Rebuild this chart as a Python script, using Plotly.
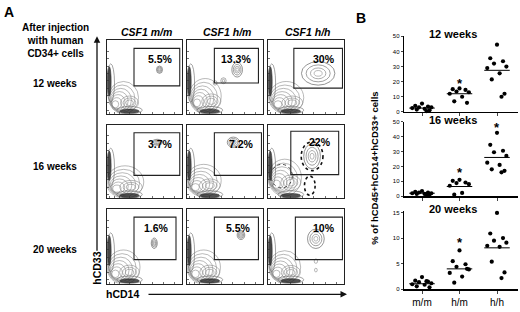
import plotly.graph_objects as go

W, H = 520, 312
FONT = "Liberation Sans, Arial, sans-serif"

# ---------------- Panel A data ----------------
col_names = ["CSF1 m/m", "CSF1 h/m", "CSF1 h/h"]
row_names = ["12 weeks", "16 weeks", "20 weeks"]
gate_pct = ["5.5%", "13.3%", "30%", "3.7%", "7.2%", "22%", "1.6%", "5.5%", "10%"]
gate_x0 = [0.36, 0.36, 0.34, 0.36, 0.36, 0.30, 0.36, 0.36, 0.36]
gate_x1 = [0.97, 0.94, 0.98, 0.97, 0.98, 0.93, 0.92, 0.94, 0.98]
gate_y0 = [0.38, 0.42, 0.35, 0.31, 0.31, 0.32, 0.32, 0.32, 0.32]
gate_y1 = [0.89, 0.89, 0.89, 0.89, 0.89, 0.91, 0.89, 0.89, 0.89]
# gated population (centre / half-size, panel fraction)
pop_cx = [0.70, 0.66, 0.66, 0.67, 0.61, 0.58, 0.63, 0.71, 0.63]
pop_cy = [0.60, 0.60, 0.55, 0.76, 0.76, 0.57, 0.54, 0.65, 0.60]
pop_rx = [0.04, 0.07, 0.22, 0.07, 0.08, 0.11, 0.04, 0.05, 0.11]
pop_ry = [0.05, 0.10, 0.16, 0.04, 0.07, 0.17, 0.07, 0.06, 0.13]
# lower-left (ungated) population
main_cx = [0.22, 0.24, 0.24, 0.24, 0.22, 0.22, 0.22, 0.22, 0.22]
main_cy = [0.22, 0.24, 0.22, 0.22, 0.24, 0.28, 0.22, 0.22, 0.22]
main_rx = [0.20, 0.21, 0.23, 0.25, 0.23, 0.22, 0.22, 0.22, 0.21]
main_ry = [0.22, 0.24, 0.22, 0.22, 0.22, 0.25, 0.23, 0.23, 0.22]

# ---------------- Panel B data ----------------
groups = ["m/m", "h/m", "h/h"]
weeks = ["12 weeks", "16 weeks", "20 weeks"]
w12 = [[5.5, 4.0, 3.5, 3.0, 3.0, 2.5, 2.0, 1.5, 1.0, 0.5],
       [15.5, 15.0, 14.5, 13.5, 13.0, 12.0, 10.0, 7.0, 6.0],
       [44.5, 35.5, 33.5, 32.0, 30.0, 29.0, 25.5, 21.5, 12.0, 10.0]]
w16 = [[3.5, 3.0, 2.5, 2.5, 2.0, 2.0, 1.5, 1.5, 1.0, 1.0],
       [11.0, 10.3, 9.2, 8.8, 8.1, 7.0, 2.2, 1.0],
       [42.5, 34.5, 30.5, 29.5, 27.0, 22.5, 21.0, 18.0, 17.0, 16.0]]
w20 = [[2.4, 1.7, 1.5, 1.4, 1.2, 1.0, 0.9, 0.6, 0.4, 1.6],
       [7.6, 5.5, 4.9, 4.4, 3.9, 3.2, 2.5, 1.3, 4.0],
       [14.9, 10.9, 10.0, 9.5, 9.1, 8.5, 8.3, 5.4, 3.3, 2.2]]
medians = [[2.5, 12.0, 27.5], [2.0, 6.5, 26.0], [1.1, 4.0, 8.1]]
star_y = [[None, 21.0, 51.0], [None, 18.0, 47.8], [None, 9.7, 16.3]]
y_max = [50, 50, 15]
y_dtick = [10, 10, 5]

# ---------------- layout geometry (pixels) ----------------
cols_px = [(107, 182), (187, 263), (268, 344)]
rows_px = [(38, 113), (124, 199), (210, 286)]
B_x = (404, 518)
B_rows = [(34, 111), (121, 197), (212, 292)]

def fx(x):
    return x / W

def fy(y):
    return 1 - y / H

fig = go.Figure()
layout = dict(width=W, height=H, margin=dict(l=0, r=0, t=0, b=0),
              paper_bgcolor="white", plot_bgcolor="white", showlegend=False,
              font=dict(family=FONT, color="black"))
shapes, annotations = [], []

def note(x, y, text, size, **kw):
    d = dict(xref="paper", yref="paper", x=fx(x), y=fy(y), text=text, showarrow=False,
             xanchor="center", yanchor="middle", font=dict(size=size, family=FONT))
    d.update(kw)
    annotations.append(d)

GRAY = "#8a8a8a"
for r in range(3):
    for c in range(3):
        i = r * 3 + c
        n = i + 1
        common = dict(range=[0, 1], showline=True, mirror=True, linecolor="#222",
                      linewidth=1, ticks="inside", ticklen=2, tickwidth=0.7,
                      tickcolor="#333", showticklabels=False, showgrid=False,
                      zeroline=False, fixedrange=True)
        layout[f"xaxis{n}"] = dict(domain=[fx(cols_px[c][0]), fx(cols_px[c][1])],
                                   anchor=f"y{n}",
                                   tickvals=[0.03, 0.1, 0.17, 0.3, 0.45, 0.6, 0.75, 0.9], **common)
        layout[f"yaxis{n}"] = dict(domain=[fy(rows_px[r][1]), fy(rows_px[r][0])],
                                   anchor=f"x{n}",
                                   tickvals=[0.05, 0.15, 0.25, 0.35, 0.45, 0.55, 0.65, 0.75, 0.85],
                                   **common)
        fig.add_trace(go.Scatter(x=[None], y=[None], xaxis=f"x{n}", yaxis=f"y{n}"))
        xr, yr = f"x{n}", f"y{n}"

        def ell(cx, cy, rx, ry, color=GRAY, width=0.6, fill=None, dash=None):
            s = dict(type="circle", xref=xr, yref=yr, x0=cx - rx, x1=cx + rx,
                     y0=cy - ry, y1=cy + ry, line=dict(color=color, width=width), layer="below")
            if fill:
                s["fillcolor"] = fill
            if dash:
                s["line"]["dash"] = dash
            shapes.append(s)

        # main lower-left population contours
        for k, sc in enumerate([1.0, 0.85, 0.71, 0.58, 0.46, 0.34, 0.22]):
            ell(main_cx[i] - 0.018 * k, main_cy[i] - 0.015 * k, main_rx[i] * sc, main_ry[i] * sc)
        for sc in [0.6, 0.42, 0.25]:
            ell(main_cx[i] + 0.08, main_cy[i] - 0.07, main_rx[i] * sc, main_ry[i] * sc * 0.7)
        # dark band along left edge and bottom
        ell(0.03, 0.44, 0.025, 0.2, color="#333", width=0.6, fill="rgba(25,25,25,0.8)")
        ell(0.05, 0.42, 0.05, 0.26, color="#666", width=0.6)
        ell(0.30, 0.035, 0.13, 0.03, color="#333", width=0.6, fill="rgba(25,25,25,0.75)")
        ell(0.30, 0.05, 0.17, 0.05, color="#666", width=0.6)
        # gated population
        if i == 5:
            ell(pop_cx[i], pop_cy[i], pop_rx[i] * 1.3, pop_ry[i] * 1.15, color="#111", width=1.6, dash="dot")
            ell(0.55, 0.17, 0.07, 0.13, color="#111", width=1.6, dash="dot")
            ell(0.18, 0.3, 0.14, 0.16, color="#444", width=1.0, dash="dot")
        for sc, colr in zip([1.0, 0.72, 0.46, 0.24], ["#666", "#777", "#888", "#999"]):
            ell(pop_cx[i], pop_cy[i], pop_rx[i] * sc, pop_ry[i] * sc, color=colr, width=0.7)
        if i == 1:
            ell(0.48, 0.45, 0.035, 0.04, color="#777")
            ell(0.48, 0.45, 0.015, 0.02, color="#777")
            ell(0.37, 0.42, 0.025, 0.03, color="#777")
        if i == 8:
            ell(0.63, 0.30, 0.022, 0.03, color="#888")
            ell(0.63, 0.18, 0.018, 0.025, color="#888")
        # gate
        shapes.append(dict(type="rect", xref=xr, yref=yr, x0=gate_x0[i], x1=gate_x1[i],
                           y0=gate_y0[i], y1=gate_y1[i], line=dict(color="#222", width=1.1),
                           layer="above"))
        annotations.append(dict(xref=xr, yref=yr, x=gate_x1[i] - 0.07, y=gate_y1[i] - 0.15,
                                text=f"<b>{gate_pct[i]}</b>", showarrow=False, xanchor="right",
                                yanchor="middle", font=dict(size=10.5, family=FONT)))

# column / row headings
for c in range(3):
    note((cols_px[c][0] + cols_px[c][1]) / 2 + 2, 30, f"<b><i>{col_names[c]}</i></b>", 10.5)
for r in range(3):
    note(55, [82, 167, 251][r], f"<b>{row_names[r]}</b>", 10)
note(55, 38, "<b>After injection<br>with human<br>CD34+ cells</b>", 10, align="center")
note(9, 9, "<b>A</b>", 14)
note(361, 15, "<b>B</b>", 14)
# flow axis arrows and labels
annotations.append(dict(xref="paper", yref="paper", x=fx(97), y=fy(34), ax=0, ay=216,
                        text="", showarrow=True, arrowhead=2, arrowsize=1, arrowwidth=1.3,
                        arrowcolor="#111"))
annotations.append(dict(xref="paper", yref="paper", x=fx(347), y=fy(297), ax=-200, ay=0,
                        text="", showarrow=True, arrowhead=2, arrowsize=1, arrowwidth=1.3,
                        arrowcolor="#111"))
note(97, 271, "<b>hCD33</b>", 10.5, textangle=-90)
note(122, 297, "<b>hCD14</b>", 10.5)

# ---------------- Panel B ----------------
jitter = [0.0, -0.18, 0.16, -0.08, 0.25, -0.26, 0.07, -0.14, 0.2, 0.12]
week_data = [w12, w16, w20]
for k in range(3):
    n = 10 + k
    xr, yr = f"x{n}", f"y{n}"
    layout[f"xaxis{n}"] = dict(domain=[fx(B_x[0]), fx(B_x[1])], anchor=yr, range=[-0.48, 2.56],
                               showline=True, linecolor="black", linewidth=1.3, ticks="outside",
                               ticklen=3, tickwidth=1, tickvals=[0, 1, 2], ticktext=groups,
                               showticklabels=(k == 2), showgrid=False, zeroline=False,
                               tickfont=dict(size=10, family=FONT), fixedrange=True)
    top = y_max[k] * (1.02 if k == 2 else 1.0)
    layout[f"yaxis{n}"] = dict(domain=[fy(B_rows[k][1]), fy(B_rows[k][0])], anchor=xr,
                               range=[0, top], showline=True, linecolor="black", linewidth=1.3,
                               ticks="outside", ticklen=2, tickwidth=1, dtick=y_dtick[k],
                               tick0=0, tickfont=dict(size=6, family=FONT), showgrid=False,
                               zeroline=False, fixedrange=True)
    for g in range(3):
        vals = week_data[k][g]
        xs = [g + jitter[j % len(jitter)] for j in range(len(vals))]
        fig.add_trace(go.Scatter(x=xs, y=vals, mode="markers", xaxis=xr, yaxis=yr,
                                 cliponaxis=False,
                                 marker=dict(color="black", size=4.2, line=dict(width=0))))
        fig.add_trace(go.Scatter(x=[g - 0.34, g + 0.34], y=[medians[k][g]] * 2, mode="lines",
                                 xaxis=xr, yaxis=yr, cliponaxis=False,
                                 line=dict(color="black", width=1)))
        if star_y[k][g] is not None:
            annotations.append(dict(xref=xr, yref=yr, x=g, y=star_y[k][g], text="<b>*</b>",
                                    showarrow=False, xanchor="center", yanchor="middle", yshift=-3,
                                    font=dict(size=13, family=FONT)))
    note(453, B_rows[k][0] - 2, f"<b>{weeks[k]}</b>", 11)

note(375, 169, "<b>% of hCD45+hCD14+hCD33+ cells</b>", 9.5, textangle=-90)

layout["shapes"] = shapes
layout["annotations"] = annotations
fig.update_layout(**layout)
fig.write_html("out.html", config={"displayModeBar": False, "staticPlot": True},
               post_script="document.body.style.margin='0';document.body.style.padding='0';")
